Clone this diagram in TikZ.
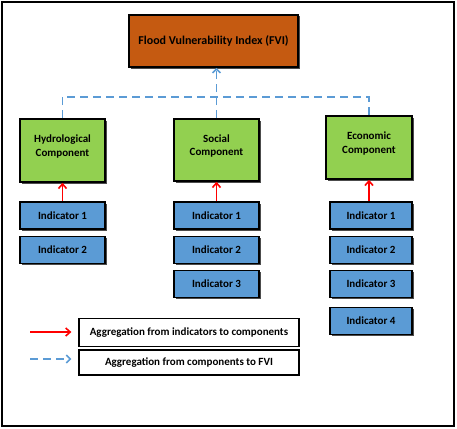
\documentclass[tikz,border=0pt]{standalone}
\usepackage{fontspec}
\setmainfont{Carlito}
\usetikzlibrary{arrows.meta,positioning,shadows}

\definecolor{fvibrown}{HTML}{C55A11}
\definecolor{compgreen}{HTML}{92D050}
\definecolor{indblue}{HTML}{5B9BD5}

\begin{document}
\begin{tikzpicture}[
    x=1pt, y=-1pt,
    every node/.style={font=\bfseries\fontsize{11}{13.5}\selectfont},
    box/.style={draw, line width=1.6pt, inner sep=2pt,
        drop shadow={shadow xshift=1.5pt, shadow yshift=-1.5pt, fill=black!70, opacity=1}},
    index/.style={box, fill=fvibrown, minimum width=169pt, minimum height=52pt, font=\bfseries\fontsize{12}{14}\selectfont},
    comp/.style={box, fill=compgreen, minimum width=85pt, minimum height=63pt, align=center, text depth=10pt},
    ind/.style={box, fill=indblue, minimum width=85pt, minimum height=27pt},
    legend/.style={draw, line width=1.2pt, fill=white, minimum width=220pt},
    toind/.style={draw=red, line width=1.6pt, -{Straight Barb[length=4.5pt,width=8pt]}},
    tofvi/.style={draw=indblue, line width=1.6pt, dash pattern=on 8pt off 5pt, -{Straight Barb[length=4pt,width=8pt]}}
]
    \useasboundingbox (0,0) rectangle (457,428);
    \draw[line width=2.5pt] (2,2) rectangle (454,426);

    \node[index] (fvi) at (213.5,41) {Flood Vulnerability Index (FVI)};

    \node[comp] (hyd) at (62.5,150.5) {Hydrological\\Component};
    \node[comp, minimum height=62pt] (soc) at (216.5,150) {Social\\Component};
    \node[comp, minimum width=86pt] (eco) at (369,147.5) {Economic\\Component};

    % indicators
    \node[ind] (h1) at (62.5,215.5) {Indicator 1};
    \node[ind] (h2) at (62.5,250) {Indicator 2};

    \node[ind] (s1) at (216.5,215.5) {Indicator 1};
    \node[ind] (s2) at (216.5,250) {Indicator 2};
    \node[ind] (s3) at (216.5,284) {Indicator 3};

    \node[ind, minimum width=82pt] (e1) at (371,215.5) {Indicator 1};
    \node[ind, minimum width=82pt] (e2) at (371,250) {Indicator 2};
    \node[ind, minimum width=82pt] (e3) at (371,284) {Indicator 3};
    \node[ind, minimum width=82pt] (e4) at (371,321) {Indicator 4};

    \draw[toind] (h1) -- (hyd);
    \draw[toind] (s1) -- (soc);
    \draw[toind] ([xshift=-2pt]e1.north) -- ([xshift=-2pt]e1.north |- eco.south);

    % components to index
    \coordinate (bus) at (216.5,97);
    \draw[tofvi, -] (hyd.north) |- (bus) -| (eco.north);
    \draw[tofvi] (soc.north) -- (soc.north |- fvi.south);

    % legend
    \node[legend, minimum height=28pt] (leg1) at (189,332.5) {Aggregation from indicators to components};
    \node[legend, minimum height=25pt] (leg2) at (189,362.5) {Aggregation from components to FVI};
    \coordinate (r0) at (30,332);
    \coordinate (b0) at (30,359);
    \draw[toind] (r0) -- ([xshift=-7pt]leg1.west |- r0);
    \draw[tofvi] (b0) -- ([xshift=-7pt]leg2.west |- b0);
\end{tikzpicture}
\end{document}
